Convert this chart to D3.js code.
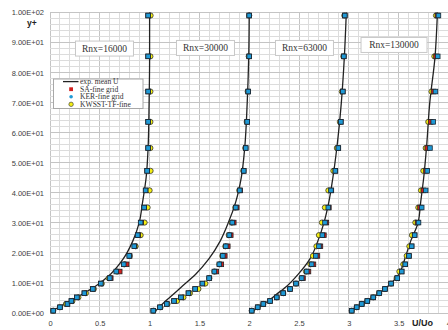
<!DOCTYPE html>
<html><head><meta charset="utf-8">
<script src="https://cdn.jsdelivr.net/npm/d3@7"></script>
<style>body{margin:0;background:#fff}svg{display:block}</style>
</head><body>
<svg id="c" width="448" height="330"></svg>
<script>
// ---- data ----
const offsets = [0, 1, 2, 3];
const rnxLabels = ["Rnx=16000", "Rnx=30000", "Rnx=63000", "Rnx=130000"];
const seriesNames = ["exp. mean U", "SA-fine grid", "KER-fine grid", "KWSST-TF-fine"];
const xTicks = [0, 0.5, 1, 1.5, 2, 2.5, 3, 3.5, 4];
const yTicks = [0, 10, 20, 30, 40, 50, 60, 70, 80, 90, 100];

const yPlus = [0.77, 1.9, 3.0, 4.0, 5.2, 6.6, 8.0, 9.8, 11.6, 13.8, 16.2, 19.0, 22.2, 25.9, 30.1, 35.1, 40.8, 47.3, 54.9, 63.6, 73.7, 85.4, 99.0];

const sa16000 = [0.033, 0.10, 0.175, 0.215, 0.27, 0.345, 0.43, 0.51, 0.61, 0.70, 0.77, 0.80, 0.85, 0.885, 0.915, 0.945, 0.96, 0.975, 0.985, 0.985, 0.985, 0.985, 0.985];
const ker16000 = [0.033, 0.10, 0.175, 0.215, 0.27, 0.345, 0.43, 0.51, 0.60, 0.665, 0.74, 0.795, 0.845, 0.88, 0.91, 0.945, 0.96, 0.975, 0.985, 0.985, 0.985, 0.985, 0.985];
const kw16000 = [0.033, 0.10, 0.16, 0.225, 0.285, 0.36, 0.44, 0.52, 0.59, 0.67, 0.745, 0.80, 0.86, 0.91, 0.95, 0.98, 1.0, 1.01, 1.008, 1.008, 1.008, 1.008, 1.01];

const sa30000 = [0.037, 0.104, 0.172, 0.245, 0.315, 0.39, 0.457, 0.53, 0.60, 0.67, 0.72, 0.755, 0.785, 0.815, 0.845, 0.875, 0.91, 0.945, 0.965, 0.98, 0.99, 1.0, 1.0];
const ker30000 = [0.037, 0.104, 0.172, 0.245, 0.315, 0.39, 0.457, 0.53, 0.597, 0.65, 0.70, 0.735, 0.765, 0.80, 0.83, 0.865, 0.905, 0.945, 0.965, 0.98, 0.99, 1.0, 1.0];
const kw30000 = [0.04, 0.11, 0.18, 0.275, 0.34, 0.405, 0.49, 0.56, 0.60, 0.65, 0.70, 0.73, 0.76, 0.795, 0.825, 0.86, 0.90, 0.94, 0.96, 0.975, 0.985, 0.995, 1.0];

const sa63000 = [0.025, 0.085, 0.142, 0.209, 0.276, 0.342, 0.41, 0.47, 0.54, 0.595, 0.645, 0.685, 0.715, 0.75, 0.775, 0.80, 0.825, 0.865, 0.895, 0.92, 0.94, 0.95, 0.96];
const ker63000 = [0.025, 0.085, 0.142, 0.209, 0.276, 0.342, 0.41, 0.47, 0.527, 0.577, 0.627, 0.668, 0.70, 0.734, 0.761, 0.794, 0.821, 0.865, 0.895, 0.92, 0.94, 0.95, 0.96];
const kw63000 = [0.025, 0.085, 0.142, 0.209, 0.276, 0.342, 0.41, 0.47, 0.525, 0.57, 0.615, 0.64, 0.675, 0.70, 0.73, 0.76, 0.795, 0.845, 0.88, 0.91, 0.93, 0.945, 0.955];

const sa130000 = [0.029, 0.079, 0.13, 0.186, 0.246, 0.306, 0.363, 0.424, 0.487, 0.531, 0.567, 0.604, 0.631, 0.661, 0.69, 0.715, 0.748, 0.775, 0.788, 0.822, 0.85, 0.876, 0.89];
const ker130000 = [0.029, 0.079, 0.13, 0.186, 0.246, 0.306, 0.363, 0.424, 0.487, 0.531, 0.567, 0.604, 0.631, 0.661, 0.70, 0.732, 0.772, 0.788, 0.815, 0.848, 0.87, 0.893, 0.90];
const kw130000 = [0.029, 0.079, 0.13, 0.186, 0.246, 0.306, 0.363, 0.424, 0.48, 0.508, 0.547, 0.581, 0.608, 0.634, 0.668, 0.698, 0.725, 0.748, 0.772, 0.798, 0.83, 0.859, 0.875];

const expY = [0.4, 2, 4, 6, 9, 13, 18, 24, 30, 37, 45, 55, 70, 85, 100];
const exp16000 = [0.02, 0.09, 0.21, 0.31, 0.46, 0.61, 0.735, 0.832, 0.895, 0.93, 0.965, 0.985, 0.995, 1.0, 1.0];
const exp30000 = [0.05, 0.10, 0.16, 0.23, 0.33, 0.465, 0.595, 0.71, 0.79, 0.865, 0.92, 0.955, 0.98, 0.995, 1.0];
const exp63000 = [0.025, 0.10, 0.19, 0.265, 0.38, 0.495, 0.61, 0.69, 0.75, 0.80, 0.84, 0.88, 0.925, 0.955, 0.975];
const exp130000 = [0.015, 0.085, 0.186, 0.28, 0.395, 0.505, 0.562, 0.622, 0.695, 0.722, 0.752, 0.78, 0.813, 0.865, 0.89];

const saAll = [sa16000, sa30000, sa63000, sa130000];
const kerAll = [ker16000, ker30000, ker63000, ker130000];
const kwAll = [kw16000, kw30000, kw63000, kw130000];
const expAll = [exp16000, exp30000, exp63000, exp130000];

// ---- layout ----
const svg = d3.select("#c");
const x = d3.scaleLinear().domain([0, 4]).range([50, 448.4]);
const y = d3.scaleLinear().domain([0, 100]).range([313, 12.5]);
const labelAnchors = [[0.547, 88], [1.561, 88.2], [2.555, 88.2], [3.454, 89.2]];

svg.append("defs").append("clipPath").attr("id", "clip")
  .append("rect").attr("x", x(0)).attr("y", y(100) - 4).attr("width", x(4) - x(0) + 2).attr("height", y(0) - y(100) + 8);

// grid
const g = svg.append("g");
g.selectAll("line.vx").data(d3.range(0, 41)).join("line")
  .attr("x1", d => x(d / 10)).attr("x2", d => x(d / 10))
  .attr("y1", y(0)).attr("y2", y(100))
  .attr("stroke", d => d % 5 === 0 ? "#c4c4c4" : "#dcdcdc").attr("stroke-width", 1)
  .attr("shape-rendering", "crispEdges");
g.selectAll("line.hy").data(d3.range(0, 51)).join("line")
  .attr("y1", d => y(d * 2)).attr("y2", d => y(d * 2))
  .attr("x1", x(0)).attr("x2", x(4))
  .attr("stroke", d => d % 5 === 0 ? "#c4c4c4" : "#dcdcdc").attr("stroke-width", 1)
  .attr("shape-rendering", "crispEdges");

// axes
const expFmt = v => {
  const s = d3.format(".2e")(v);
  const [m, e] = s.split("e");
  const sign = e[0] === "-" ? "-" : "+";
  const digits = e.replace(/[+-]/, "").padStart(2, "0");
  return m + "E" + sign + digits;
};
const ya = svg.append("g").attr("transform", `translate(${x(0)},0)`)
  .call(d3.axisLeft(y).tickValues(yTicks).tickFormat(expFmt).tickSize(0).tickPadding(6));
ya.select(".domain").remove();
ya.selectAll("text").attr("font-family", "Liberation Sans, Arial, sans-serif").attr("font-size", 7.5).attr("fill", "#404040");

const xa = svg.append("g").attr("transform", `translate(0,${y(0)})`)
  .call(d3.axisBottom(x).tickValues(xTicks).tickFormat(d3.format("")).tickSize(0).tickPadding(8));
xa.select(".domain").remove();
xa.selectAll("text").attr("font-family", "Liberation Sans, Arial, sans-serif").attr("font-size", 7.5).attr("fill", "#404040");

svg.append("text").attr("x", 27).attr("y", 25.5).text("y+")
  .attr("font-family", "Liberation Sans, Arial, sans-serif").attr("font-weight", "bold").attr("font-size", 8.5).attr("fill", "#222");
svg.append("text").attr("x", 412).attr("y", 325.5).text("U/Uo")
  .attr("font-family", "Liberation Sans, Arial, sans-serif").attr("font-weight", "bold").attr("font-size", 9).attr("fill", "#222");

// data marks
const plot = svg.append("g").attr("clip-path", "url(#clip)");
const line = d3.line().x(d => x(d[0])).y(d => y(d[1])).curve(d3.curveMonotoneY);
expAll.forEach((arr, i) => {
  const pts = arr.map((u, k) => [u + offsets[i], expY[k]]);
  plot.append("path").datum(pts).attr("d", line)
    .attr("fill", "none").attr("stroke", "#222").attr("stroke-width", 1.3);
});

const yellow = "#f4ee12", red = "#d0201e", blue = "#1f9ad6";
kwAll.forEach((arr, i) => {
  plot.append("g").selectAll("circle").data(arr.map((u, k) => [u + offsets[i], yPlus[k]])).join("circle")
    .attr("cx", d => x(d[0])).attr("cy", d => y(d[1])).attr("r", 2.6)
    .attr("fill", yellow).attr("stroke", "#333").attr("stroke-width", 0.8);
});
saAll.forEach((arr, i) => {
  plot.append("g").selectAll("rect").data(arr.map((u, k) => [u + offsets[i], yPlus[k]])).join("rect")
    .attr("x", d => x(d[0]) - 2.3).attr("y", d => y(d[1]) - 2.3).attr("width", 4.6).attr("height", 4.6)
    .attr("fill", red).attr("stroke", "#222").attr("stroke-width", 0.8);
});
kerAll.forEach((arr, i) => {
  plot.append("g").selectAll("rect").data(arr.map((u, k) => [u + offsets[i], yPlus[k]])).join("rect")
    .attr("x", d => x(d[0]) - 2.3).attr("y", d => y(d[1]) - 2.3).attr("width", 4.6).attr("height", 4.6)
    .attr("fill", blue).attr("stroke", "#1a2530").attr("stroke-width", 0.8);
});

// Rnx labels
const serif = "Liberation Serif, Times New Roman, serif";
rnxLabels.forEach((t, i) => {
  const cx = x(labelAnchors[i][0]), cy = y(labelAnchors[i][1]);
  const w = i === 3 ? 66 : 58;
  svg.append("rect").attr("x", cx - w / 2).attr("y", cy - 7.5).attr("width", w).attr("height", 15)
    .attr("fill", "#fff").attr("stroke", "#c8c8c8").attr("stroke-width", 1);
  svg.append("text").attr("x", cx).attr("y", cy + 3.3).attr("text-anchor", "middle").text(t)
    .attr("font-family", serif).attr("font-size", 9.5).attr("fill", "#333");
});

// legend
const lg = svg.append("g");
lg.append("rect").attr("x", 53.5).attr("y", 79).attr("width", 89.5).attr("height", 29.5)
  .attr("fill", "#fff").attr("stroke", "#a8a8a8").attr("stroke-width", 1);
const rows = [81.6, 89.2, 96.7, 104.3];
lg.append("line").attr("x1", 63).attr("x2", 78.5).attr("y1", rows[0]).attr("y2", rows[0])
  .attr("stroke", "#222").attr("stroke-width", 1.3);
lg.append("rect").attr("x", 69.2).attr("y", rows[1] - 1.9).attr("width", 3.8).attr("height", 3.8).attr("fill", red);
lg.append("circle").attr("cx", 71.1).attr("cy", rows[2]).attr("r", 1.8).attr("fill", blue);
lg.append("circle").attr("cx", 71.1).attr("cy", rows[3]).attr("r", 2.2).attr("fill", yellow).attr("stroke", "#444").attr("stroke-width", 0.7);
seriesNames.forEach((t, i) => {
  lg.append("text").attr("x", 80).attr("y", rows[i] + 2.6).text(t)
    .attr("font-family", serif).attr("font-size", 7.6).attr("fill", "#333");
});
</script>
</body></html>
